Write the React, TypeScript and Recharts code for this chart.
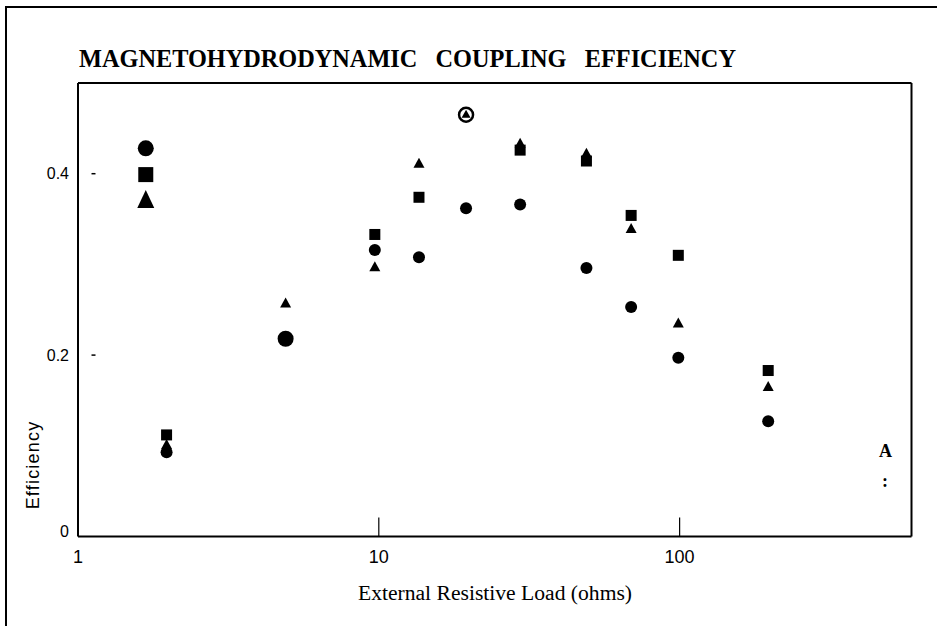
import { ScatterChart, Scatter, XAxis, YAxis, ReferenceLine } from 'recharts'

// external load (ohms) for each measured column
const loads = [1.68, 1.97, 4.9, 9.7, 13.6, 19.5, 29.5, 49, 69, 99, 197]
const circleEff = [0.428, 0.093, 0.218, 0.316, 0.308, 0.362, 0.366, 0.296, 0.253, 0.197, 0.127]
const squareEff = [0.399, 0.112, null, 0.333, 0.374, null, 0.426, 0.414, 0.354, 0.31, 0.183]
const triangleEff = [0.372, 0.102, 0.258, 0.298, 0.412, null, 0.434, 0.423, 0.34, 0.236, 0.166]
const bigCircleAt = [0, 2]
const bigOtherAt = [0]
// circled triangle (overlapping points)
const circledLoads = [19.5]
const circledEff = [0.465]

const xTicks = [1, 10, 100]
const yTicks = [0, 0.2, 0.4]
const xMax = 590
const yMax = 0.5

const toPoints = (vals: (number | null)[], big: number[]) =>
  loads
    .map((x, i) => ({ x, y: vals[i], big: big.includes(i) }))
    .filter((p) => p.y != null)

const circles = toPoints(circleEff, bigCircleAt)
const squares = toPoints(squareEff, bigOtherAt)
const triangles = toPoints(triangleEff, bigOtherAt)
const circled = circledLoads.map((x, i) => ({ x, y: circledEff[i], big: false }))

function Mark(props: any) {
  const { cx, cy, payload, kind } = props
  if (cx == null || cy == null) return null
  const big = payload?.big
  if (kind === 'circle') {
    return <circle cx={cx} cy={cy} r={big ? 8 : 6} fill="#000" />
  }
  if (kind === 'square') {
    const s = big ? 15 : 11
    return <rect x={cx - s / 2} y={cy - s / 2} width={s} height={s} fill="#000" />
  }
  if (kind === 'triangle') {
    const w = big ? 17 : 11
    const h = big ? 18 : 10
    return (
      <path
        d={`M${cx},${cy - h / 2} L${cx + w / 2},${cy + h / 2} L${cx - w / 2},${cy + h / 2} Z`}
        fill="#000"
      />
    )
  }
  // circled triangle
  return (
    <g>
      <circle cx={cx} cy={cy} r={7} fill="#fff" stroke="#000" strokeWidth={2.5} />
      <path d={`M${cx},${cy - 5} L${cx + 4.5},${cy + 3} L${cx - 4.5},${cy + 3} Z`} fill="#000" />
    </g>
  )
}

function XTick({ x, y, payload }: any) {
  return (
    <g>
      {payload.value !== 1 && <line x1={x} x2={x} y1={y - 19} y2={y} stroke="#000" strokeWidth={1.2} />}
      <text
        x={x}
        y={y + 26}
        textAnchor="middle"
        fontSize={18}
        fontFamily="'Liberation Sans Narrow', 'Arial Narrow', 'Liberation Sans', sans-serif"
        fill="#000"
      >
        {payload.value}
      </text>
    </g>
  )
}

function YTick({ x, y, payload }: any) {
  const zero = payload.value === 0
  return (
    <g>
      {!zero && <line x1={x + 13.5} x2={x + 17.5} y1={y} y2={y} stroke="#000" strokeWidth={1.5} />}
      <text
        x={x - 9}
        y={zero ? y - 5 : y}
        dy="0.35em"
        textAnchor="end"
        fontSize={16}
        fontFamily="'Liberation Sans', Arial, sans-serif"
        fill="#000"
      >
        {payload.value}
      </text>
    </g>
  )
}

export default function App() {
  return (
    <div style={{ position: 'relative', width: 937, height: 626, background: '#fff' }}>
      <style>{'body{margin:0}'}</style>
      <div
        style={{
          position: 'absolute',
          left: 5,
          top: 6,
          right: 0,
          bottom: 0,
          borderTop: '2px solid #000',
          borderLeft: '2px solid #000',
        }}
      />
      <div
        style={{
          position: 'absolute',
          left: 79,
          top: 47,
          fontSize: 24.3,
          lineHeight: 1,
          fontWeight: 'bold',
          fontFamily: "'Liberation Serif', 'Times New Roman', serif",
          whiteSpace: 'pre',
        }}
      >
        {'MAGNETOHYDRODYNAMIC   COUPLING   EFFICIENCY'}
      </div>
      <div
        style={{
          position: 'absolute',
          left: 879,
          top: 442,
          fontSize: 18,
          lineHeight: 1,
          fontWeight: 'bold',
          fontFamily: "'Liberation Serif', serif",
        }}
      >
        A
      </div>
      <div
        style={{
          position: 'absolute',
          left: 882,
          top: 472,
          fontSize: 18,
          lineHeight: 1,
          fontWeight: 'bold',
          fontFamily: "'Liberation Serif', serif",
        }}
      >
        :
      </div>
      <div style={{ position: 'absolute', left: 0, top: 0 }}>
        <ScatterChart width={937} height={626} margin={{ top: 83, right: 25.5, bottom: 0, left: 0 }}>
          <XAxis
            dataKey="x"
            type="number"
            scale="log"
            domain={[1, xMax]}
            allowDataOverflow
            ticks={xTicks}
            interval={0}
            height={89.5}
            tickSize={0}
            tickMargin={0}
            tickLine={false}
            axisLine={{ stroke: '#000', strokeWidth: 2 }}
            tick={<XTick />}
            label={{
              content: () => (
                <text
                  x={495}
                  y={600}
                  textAnchor="middle"
                  fontSize={21.6}
                  fontFamily="'Liberation Serif', 'Times New Roman', serif"
                  fill="#000"
                >
                  External Resistive Load (ohms)
                </text>
              ),
            }}
          />
          <YAxis
            dataKey="y"
            type="number"
            domain={[0, yMax]}
            allowDataOverflow
            ticks={yTicks}
            interval={0}
            width={78}
            tickSize={0}
            tickMargin={0}
            tickLine={false}
            axisLine={{ stroke: '#000', strokeWidth: 2 }}
            tick={<YTick />}
            label={{
              content: () => (
                <text
                  x={39}
                  y={465}
                  transform="rotate(-90 39 465)"
                  textAnchor="middle"
                  fontSize={18}
                  letterSpacing={1.2}
                  fontFamily="'Liberation Sans', Arial, sans-serif"
                  fill="#000"
                >
                  Efficiency
                </text>
              ),
            }}
          />
          <ReferenceLine y={yMax} stroke="#000" strokeWidth={2} />
          <ReferenceLine x={xMax} stroke="#000" strokeWidth={2} />
          <Scatter data={squares} isAnimationActive={false} shape={(p: any) => <Mark {...p} kind="square" />} />
          <Scatter data={triangles} isAnimationActive={false} shape={(p: any) => <Mark {...p} kind="triangle" />} />
          <Scatter data={circles} isAnimationActive={false} shape={(p: any) => <Mark {...p} kind="circle" />} />
          <Scatter data={circled} isAnimationActive={false} shape={(p: any) => <Mark {...p} kind="circled" />} />
        </ScatterChart>
      </div>
    </div>
  )
}
